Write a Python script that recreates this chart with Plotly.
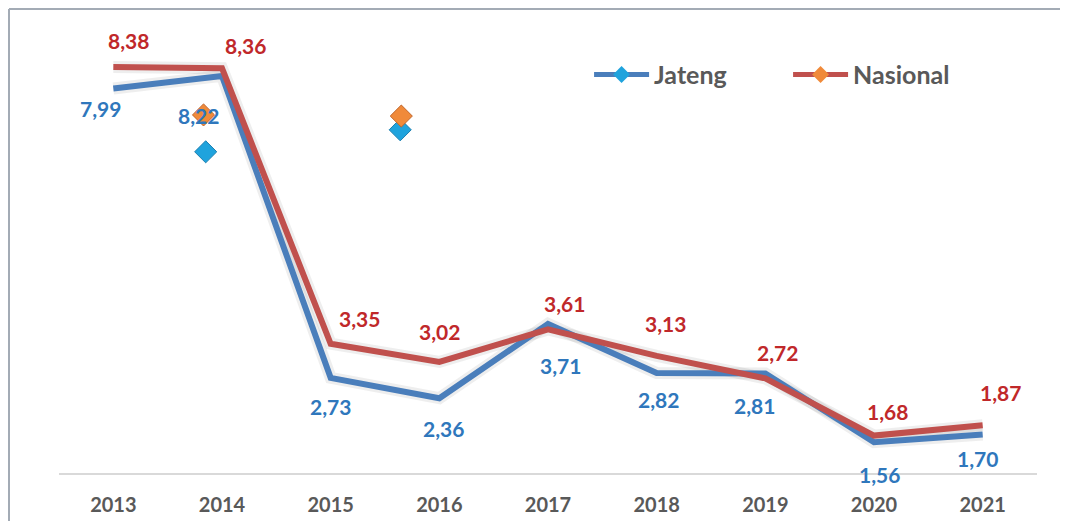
import plotly.graph_objects as go

# ── Data ─────────────────────────────────────────────────────────────────────
years = [2013, 2014, 2015, 2016, 2017, 2018, 2019, 2020, 2021]
jateng = [7.99, 8.22, 2.73, 2.36, 3.71, 2.82, 2.81, 1.56, 1.70]
nasional = [8.38, 8.36, 3.35, 3.02, 3.61, 3.13, 2.72, 1.68, 1.87]

# stray legend-style diamonds left in the source picture
stray_jateng_x = [2013.85, 2015.64]
stray_jateng_y = [6.84, 7.24]
stray_nasional_x = [2013.83, 2015.65]
stray_nasional_y = [7.51, 7.49]

# ── Styling ──────────────────────────────────────────────────────────────────
FONT = "Lato"
BLUE_LINE = "#4A7EBB"
RED_LINE = "#C0504D"
BLUE_TEXT = "#2F77BC"
RED_TEXT = "#C0282A"
BLUE_MARK = "#1FA3DD"
ORANGE_MARK = "#F08A3A"
GREY_TEXT = "#595959"

# label offsets in px (dx, dy) relative to each point
jateng_shift = [(-13, -20), (-24, -40), (0, -29), (4, -30), (12, -42),
                (2, -27), (-11, -32), (5, -32), (-5, -24)]
nasional_shift = [(15, 27), (23, 23), (29, 25), (0, 30), (16, 26),
                  (9, 32), (12, 26), (13, 24), (18, 33)]


def fmt(v):
    return f"{v:.2f}".replace(".", ",")


fig = go.Figure()

# soft shadow under each line
for ys in (jateng, nasional):
    fig.add_trace(go.Scatter(x=years, y=ys, mode="lines", showlegend=False,
                             hoverinfo="skip",
                             line=dict(color="rgba(90,90,90,0.10)", width=12)))

fig.add_trace(go.Scatter(x=years, y=jateng, mode="lines", name="Jateng",
                         showlegend=False, line=dict(color=BLUE_LINE, width=6)))
fig.add_trace(go.Scatter(x=years, y=nasional, mode="lines", name="Nasional",
                         showlegend=False, line=dict(color=RED_LINE, width=6)))

# stray diamonds
fig.add_trace(go.Scatter(x=stray_jateng_x, y=stray_jateng_y, mode="markers",
                         showlegend=False,
                         marker=dict(symbol="diamond", size=17, color=BLUE_MARK,
                                     line=dict(color="#1B7FB0", width=1))))
fig.add_trace(go.Scatter(x=stray_nasional_x, y=stray_nasional_y, mode="markers",
                         showlegend=False,
                         marker=dict(symbol="diamond", size=17, color=ORANGE_MARK,
                                     line=dict(color="#C0642A", width=1))))

# legend entries
fig.add_trace(go.Scatter(x=[None], y=[None], mode="lines+markers", name="Jateng",
                         line=dict(color=BLUE_LINE, width=5),
                         marker=dict(symbol="diamond", size=13, color=BLUE_MARK)))
fig.add_trace(go.Scatter(x=[None], y=[None], mode="lines+markers", name="Nasional",
                         line=dict(color=RED_LINE, width=5),
                         marker=dict(symbol="diamond", size=13, color=ORANGE_MARK)))

# data labels
for xs, ys, shifts, col in [(years, jateng, jateng_shift, BLUE_TEXT),
                            (years, nasional, nasional_shift, RED_TEXT)]:
    for x, y, (dx, dy) in zip(xs, ys, shifts):
        fig.add_annotation(x=x, y=y, text=fmt(y), showarrow=False,
                           xshift=dx, yshift=dy,
                           font=dict(family=FONT, size=21, color=col,
                                     weight="bold"))

fig.update_layout(
    width=1052, height=513,
    margin=dict(l=51, r=23, t=25, b=48),
    paper_bgcolor="white",
    plot_bgcolor="white",
    font=dict(family=FONT, color=GREY_TEXT),
    legend=dict(orientation="h", x=0.542, xanchor="left", y=0.905, yanchor="middle",
                bgcolor="rgba(0,0,0,0)", entrywidth=129, itemwidth=55,
                font=dict(family=FONT, size=25, color=GREY_TEXT, weight="bold")),
    xaxis=dict(range=[2012.5, 2021.5], tickvals=years,
               ticktext=[str(y) for y in years],
               showgrid=False, zeroline=False, automargin=False,
               showline=True, linecolor="#D9D9D9", linewidth=2,
               ticks="", ticklabelstandoff=13,
               tickfont=dict(family=FONT, size=20, color=GREY_TEXT, weight="bold")),
    yaxis=dict(range=[1, 9], visible=False, showgrid=False, zeroline=False,
               automargin=False),
    shapes=[
        dict(type="line", xref="paper", yref="paper", layer="above",
             x0=-50 / 978, x1=-50 / 978, y0=-0.2, y1=1 + 24 / 440,
             line=dict(color="#A3ABB5", width=2)),
        dict(type="line", xref="paper", yref="paper", layer="above",
             x0=-50 / 978, x1=1.04, y0=1 + 24 / 440, y1=1 + 24 / 440,
             line=dict(color="#A3ABB5", width=2)),
    ],
)

fig.write_html("out.html")
